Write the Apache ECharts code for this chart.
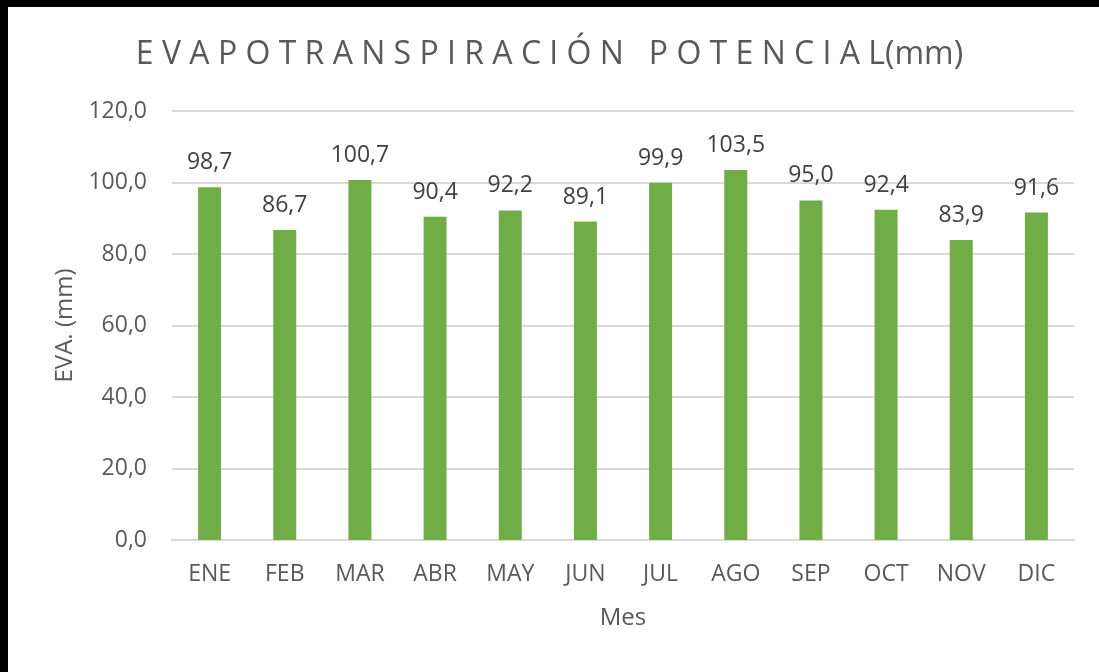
<!DOCTYPE html>
<html>
<head>
<meta charset="utf-8">
<script src="https://cdn.jsdelivr.net/npm/echarts@6/dist/echarts.min.js"></script>
<style>
  html, body { margin: 0; padding: 0; background: #fff; }
  #main { width: 1099px; height: 672px; }
</style>
</head>
<body>
<div id="main"></div>
<script>
// datos del grafico
var meses = ['ENE', 'FEB', 'MAR', 'ABR', 'MAY', 'JUN', 'JUL', 'AGO', 'SEP', 'OCT', 'NOV', 'DIC'];
var evapotranspiracion = [98.7, 86.7, 100.7, 90.4, 92.2, 89.1, 99.9, 103.5, 95.0, 92.4, 83.9, 91.6];
var palabras = ['EVAPOTRANSPIRACIÓN', 'POTENCIAL'];

// titulo con letras espaciadas como en Excel
var titulo = palabras.map(function (w) {
    return w.split('').join(' ');
}).join('   ') + '(mm)';

var myChart = echarts.init(document.getElementById('main'));

var fuente = '"Open Sans", "Noto Sans", sans-serif';

function coma(v) {
    return v.toFixed(1).replace('.', ',');
}

var option = {
    backgroundColor: '#fff',
    animation: false,
    title: {
        text: titulo,
        left: 'center',
        top: 34,
        textStyle: {
            fontFamily: fuente,
            fontSize: 32,
            fontWeight: 'normal',
            color: '#595959'
        }
    },
    // marco negro arriba e izquierda
    graphic: {
        elements: [
            {
                type: 'rect', left: 0, top: 0, z: 100,
                shape: { width: 1099, height: 7 },
                style: { fill: '#000' }
            },
            {
                type: 'rect', left: 0, top: 0, z: 100,
                shape: { width: 8, height: 672 },
                style: { fill: '#000' }
            }
        ]
    },
    grid: {
        left: 172,
        right: 25,
        top: 111,
        bottom: 132
    },
    xAxis: {
        type: 'category',
        data: meses,
        name: 'Mes',
        nameLocation: 'middle',
        nameGap: 66,
        nameTextStyle: { fontFamily: fuente, fontSize: 24, color: '#595959' },
        axisTick: { show: false },
        axisLine: { lineStyle: { color: '#d9d9d9', width: 2 } },
        axisLabel: { fontFamily: fuente, fontSize: 23, color: '#595959', margin: 23 }
    },
    yAxis: {
        type: 'value',
        min: 0,
        max: 120,
        interval: 20,
        name: 'EVA. (mm)',
        nameLocation: 'middle',
        nameGap: 66,
        nameTextStyle: { fontFamily: fuente, fontSize: 24, color: '#595959' },
        axisLine: { show: false },
        axisTick: { show: false },
        splitLine: { lineStyle: { color: '#d9d9d9', width: 2 } },
        axisLabel: {
            fontFamily: fuente, fontSize: 23, color: '#595959', margin: 25,
            formatter: function (v) { return coma(v); }
        }
    },
    series: [{
        name: 'EVA',
        type: 'bar',
        data: evapotranspiracion,
        barWidth: 23,
        itemStyle: { color: '#70ad47' },
        label: {
            show: true,
            position: 'top',
            distance: 13,
            fontFamily: fuente,
            fontSize: 23,
            color: '#404040',
            formatter: function (p) { return coma(p.value); }
        }
    }]
};

myChart.setOption(option);
</script>
</body>
</html>
